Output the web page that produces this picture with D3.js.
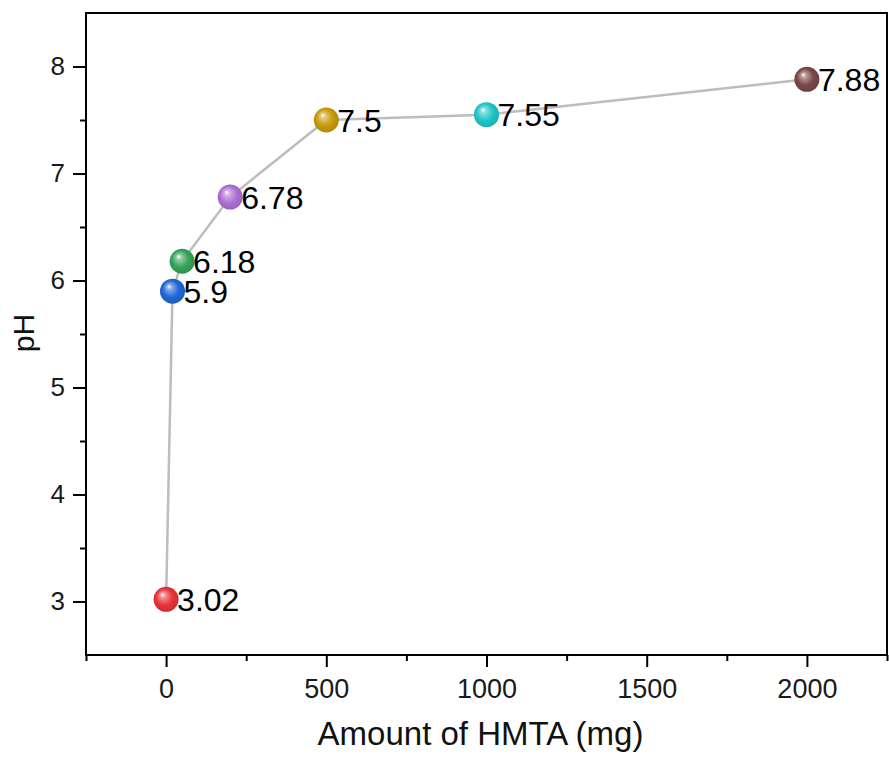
<!DOCTYPE html>
<html><head><meta charset="utf-8">
<script src="https://cdn.jsdelivr.net/npm/d3@7"></script>
<style>body{margin:0;background:#fff}svg{display:block}</style>
</head><body>
<svg id="c" width="889" height="759"></svg>
<script>
const amounts = [0, 20, 50, 200, 500, 1000, 2000];
const phValues = [3.02, 5.9, 6.18, 6.78, 7.5, 7.55, 7.88];
const pointLabels = ["3.02", "5.9", "6.18", "6.78", "7.5", "7.55", "7.88"];
const pointColors = ["#e8333a", "#1f68d6", "#35a45a", "#b06fd6", "#c99a0c", "#1fc6c8", "#7b4848"];
const xTicks = [0, 500, 1000, 1500, 2000];
const yTicks = [3, 4, 5, 6, 7, 8];

const svg = d3.select("#c");
const L = 86, R = 887, T = 13, B = 655;
const x = d3.scaleLinear().domain([-250, 2250]).range([L, R]);
const y = d3.scaleLinear().domain([2.5, 8.5]).range([B, T]);
const font = "'Liberation Sans', Arial, sans-serif";

// gradients
const defs = svg.append("defs");
pointColors.forEach((c, i) => {
  const g = defs.append("radialGradient").attr("id", "g" + i)
    .attr("cx", "0.5").attr("cy", "0.5").attr("r", "0.6").attr("fx", "0.35").attr("fy", "0.3");
  g.append("stop").attr("offset", "0").attr("stop-color", "#ffffff");
  g.append("stop").attr("offset", "0.18").attr("stop-color", d3.interpolateRgb(c, "#fff")(0.45));
  g.append("stop").attr("offset", "0.55").attr("stop-color", c);
  g.append("stop").attr("offset", "1").attr("stop-color", d3.color(c).darker(0.5));
});

// frame
svg.append("rect").attr("x", L).attr("y", T).attr("width", R - L).attr("height", B - T)
  .attr("fill", "none").attr("stroke", "#000").attr("stroke-width", 2);

// x axis
const xAx = svg.append("g").attr("transform", `translate(0,${B})`)
  .call(d3.axisBottom(x).tickValues(xTicks).tickFormat(d3.format("d")).tickSize(12).tickPadding(12));
const xMinor = svg.append("g").attr("transform", `translate(0,${B})`)
  .call(d3.axisBottom(x).tickValues(d3.range(-250, 2251, 500)).tickFormat("").tickSize(6));
// y axis
const yAx = svg.append("g").attr("transform", `translate(${L},0)`)
  .call(d3.axisLeft(y).tickValues(yTicks).tickFormat(d3.format("d")).tickSize(13).tickPadding(8));
const yMinor = svg.append("g").attr("transform", `translate(${L},0)`)
  .call(d3.axisLeft(y).tickValues(d3.range(3.5, 8.5, 1)).tickFormat("").tickSize(6));
[xAx, xMinor, yAx, yMinor].forEach(a => {
  a.select(".domain").remove();
  a.attr("font-size", null).attr("font-family", null);
  a.selectAll("line").attr("stroke", "#000").attr("stroke-width", 2);
  a.selectAll("text").style("font-family", font).style("font-size", "27px").attr("fill", "#1a1a1a");
});
yAx.selectAll("text").style("font-size", "26px");

// axis titles
svg.append("text").attr("x", (L + R) / 2 - 6).attr("y", 745).attr("text-anchor", "middle")
  .style("font-family", font).style("font-size", "33px").attr("fill", "#111").text("Amount of HMTA (mg)");
svg.append("text").attr("transform", `translate(34,333) rotate(-90)`)
  .attr("text-anchor", "middle").style("font-family", font).style("font-size", "30px").attr("fill", "#111").text("pH");

// line
const data = amounts.map((a, i) => ({a, p: phValues[i], l: pointLabels[i], c: i}));
svg.append("path").datum(data)
  .attr("d", d3.line().x(d => x(d.a)).y(d => y(d.p)))
  .attr("fill", "none").attr("stroke", "#bdbdbd").attr("stroke-width", 2.5);

// points
svg.selectAll("circle.pt").data(data).join("circle").attr("class", "pt")
  .attr("cx", d => x(d.a)).attr("cy", d => y(d.p)).attr("r", 12.5)
  .attr("fill", d => `url(#g${d.c})`);

// labels
svg.selectAll("text.lbl").data(data).join("text").attr("class", "lbl")
  .attr("x", d => x(d.a) + 11).attr("y", d => y(d.p) + 11.5)
  .style("font-family", font).style("font-size", "32px").attr("fill", "#000").text(d => d.l);
</script>
</body></html>
